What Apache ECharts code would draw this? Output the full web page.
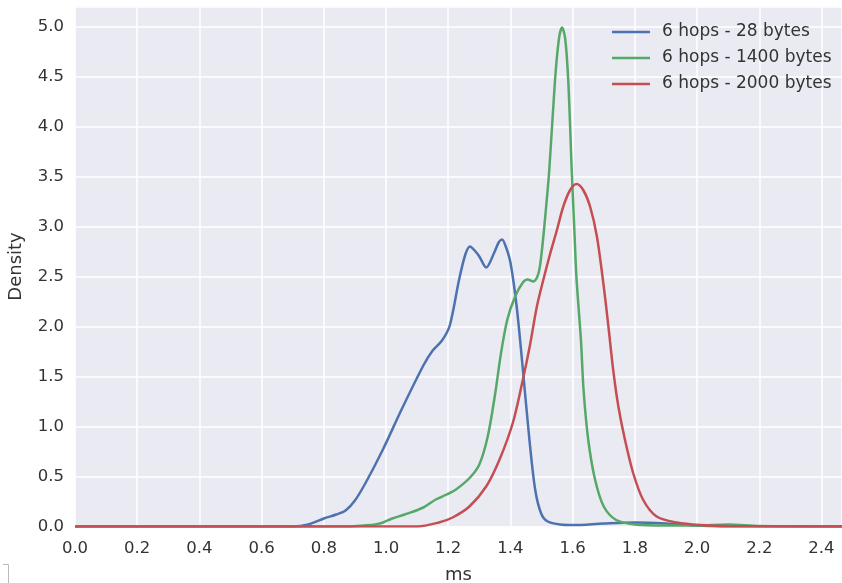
<!DOCTYPE html>
<html>
<head>
<meta charset="utf-8">
<script src="https://cdn.jsdelivr.net/npm/echarts@6/dist/echarts.min.js"></script>
<style>
html,body{margin:0;padding:0;background:#fff;}
#c{width:842px;height:583px;}
</style>
</head>
<body>
<div id="c"></div>
<script>
// Series names
const seriesNames = ['6 hops - 28 bytes', '6 hops - 1400 bytes', '6 hops - 2000 bytes'];

// 6 hops - 28 bytes (x in ms, y density)
const blueX = [0, 0.70, 0.75, 0.80, 0.84, 0.87, 0.90, 0.935, 0.99, 1.05, 1.12, 1.15, 1.18, 1.205, 1.235, 1.255, 1.27, 1.285, 1.30, 1.322, 1.348, 1.362, 1.373, 1.385, 1.40, 1.42, 1.44, 1.46, 1.48, 1.50, 1.52, 1.56, 1.60, 1.70, 1.80, 1.90, 2.0, 2.1, 2.466];
const blueY = [0, 0, 0.02, 0.08, 0.12, 0.16, 0.26, 0.44, 0.77, 1.17, 1.61, 1.76, 1.86, 2.01, 2.47, 2.72, 2.80, 2.76, 2.70, 2.59, 2.74, 2.84, 2.87, 2.80, 2.64, 2.2, 1.57, 0.9, 0.36, 0.12, 0.05, 0.02, 0.015, 0.03, 0.04, 0.03, 0.01, 0, 0];

// 6 hops - 1400 bytes
const greenX = [0, 0.88, 0.93, 0.965, 0.99, 1.02, 1.06, 1.12, 1.16, 1.195, 1.225, 1.27, 1.30, 1.327, 1.35, 1.37, 1.39, 1.415, 1.44, 1.455, 1.474, 1.49, 1.50, 1.511, 1.525, 1.543, 1.556, 1.566, 1.576, 1.586, 1.597, 1.605, 1.612, 1.62, 1.627, 1.635, 1.65, 1.672, 1.70, 1.74, 1.80, 1.90, 2.0, 2.1, 2.2, 2.466];
const greenY = [0, 0, 0.01, 0.02, 0.04, 0.08, 0.12, 0.19, 0.27, 0.32, 0.37, 0.49, 0.62, 0.90, 1.31, 1.74, 2.07, 2.30, 2.44, 2.47, 2.45, 2.53, 2.73, 3.07, 3.57, 4.45, 4.88, 4.99, 4.88, 4.45, 3.57, 3.0, 2.5, 2.15, 1.85, 1.37, 0.87, 0.47, 0.2, 0.065, 0.02, 0.01, 0.01, 0.02, 0.005, 0];

// 6 hops - 2000 bytes
const redX = [0, 1.10, 1.17, 1.214, 1.268, 1.322, 1.365, 1.408, 1.44, 1.462, 1.485, 1.506, 1.527, 1.549, 1.57, 1.592, 1.613, 1.634, 1.656, 1.678, 1.70, 1.715, 1.731, 1.747, 1.768, 1.795, 1.827, 1.87, 1.935, 2.01, 2.1, 2.466];
const redY = [0, 0, 0.04, 0.09, 0.2, 0.40, 0.67, 1.04, 1.47, 1.8, 2.2, 2.47, 2.72, 2.96, 3.20, 3.365, 3.425, 3.365, 3.20, 2.90, 2.4, 2.0, 1.55, 1.2, 0.87, 0.53, 0.265, 0.1, 0.04, 0.015, 0.005, 0];

const colors = ['#4C72B0', '#55A868', '#C44E52'];
const xsList = [blueX, greenX, redX];
const ysList = [blueY, greenY, redY];

const font = 'DejaVu Sans';
const chart = echarts.init(document.getElementById('c'), null, {renderer: 'canvas'});

const series = seriesNames.map((name, i) => ({
  name: name,
  type: 'line',
  data: xsList[i].map((x, k) => [x, ysList[i][k]]),
  showSymbol: false,
  symbol: 'none',
  smooth: 0.3,
  lineStyle: {color: colors[i], width: 2.5},
  itemStyle: {color: colors[i]},
  animation: false
}));

chart.setOption({
  animation: false,
  backgroundColor: '#ffffff',
  grid: {left: 75, right: 0, top: 6.5, bottom: 56.5, show: true, backgroundColor: '#EAEAF2', borderWidth: 0,
    containLabel: false, outerBoundsMode: 'none'},
  xAxis: {
    type: 'value', min: 0, max: 2.466, interval: 0.2,
    name: 'ms', nameLocation: 'middle', nameGap: 40,
    nameTextStyle: {fontFamily: font, fontSize: 18, color: '#333'},
    axisLine: {show: false}, axisTick: {show: false},
    axisLabel: {fontFamily: font, fontSize: 16.5, color: '#333', margin: 14, showMaxLabel: false,
      formatter: v => (Math.abs(Math.round(v * 5) - v * 5) < 1e-6 ? v.toFixed(1) : '')},
    splitLine: {show: true, lineStyle: {color: '#ffffff', width: 1.5}}
  },
  yAxis: {
    type: 'value', min: 0, max: 5.2, interval: 0.5,
    name: 'Density', nameLocation: 'middle', nameGap: 50, nameRotate: 90,
    nameTextStyle: {fontFamily: font, fontSize: 18, color: '#333'},
    axisLine: {show: false}, axisTick: {show: false},
    axisLabel: {fontFamily: font, fontSize: 16.5, color: '#333', margin: 11, showMaxLabel: false,
      formatter: v => (Math.abs(Math.round(v * 2) - v * 2) < 1e-6 ? v.toFixed(1) : '')},
    splitLine: {show: true, lineStyle: {color: '#ffffff', width: 1.5}}
  },
  legend: {
    orient: 'vertical', left: 612, top: 23.5, padding: 0,
    itemWidth: 38, itemHeight: 2.5, itemGap: 9, icon: 'rect',
    textStyle: {fontFamily: font, fontSize: 17, color: '#333', padding: [0, 0, 0, 7]},
    data: seriesNames
  },
  graphic: [
    {type: 'polyline', shape: {points: [[3, 564.5], [8.5, 564.5], [8.5, 583]]}, style: {stroke: '#bbbbbb', lineWidth: 1, fill: null}}
  ],
  series: series
});
</script>
</body>
</html>
